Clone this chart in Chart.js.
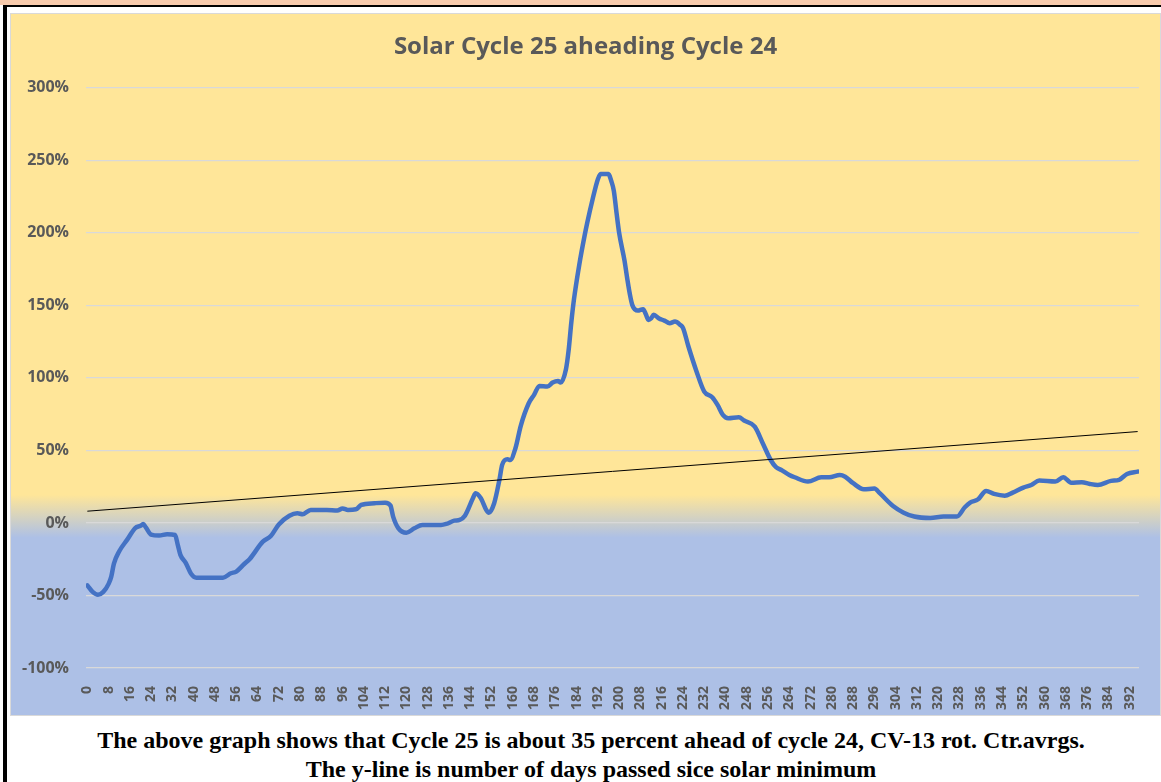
<!DOCTYPE html>
<html>
<head>
<meta charset="utf-8">
<script src="https://cdn.jsdelivr.net/npm/chart.js@4.4.1/dist/chart.umd.min.js"></script>
<style>
html,body{margin:0;padding:0;background:#fff;}
body{width:1161px;height:782px;overflow:hidden;position:relative;}
#peach{position:absolute;left:0;top:0;width:1161px;height:5px;background:#F8CBAD;}
#topline{position:absolute;left:3px;top:5px;width:1158px;height:2px;background:#000;}
#leftline{position:absolute;left:3px;top:5px;width:4px;height:777px;background:#000;}
#box{position:absolute;left:10px;top:13px;width:1151px;height:703px;box-sizing:border-box;border:1px solid #D9D9D9;
 background:linear-gradient(to bottom,#FFE699 0%,#FFE699 68.6%,#ADC0E6 74.7%,#ADC0E6 100%);}
#box canvas{position:absolute;left:0;top:0;}
#caption{position:absolute;left:7px;width:1168px;top:726px;text-align:center;font-family:"Liberation Serif","Times New Roman",serif;font-weight:bold;font-size:24px;line-height:29px;color:#000;}
</style>
</head>
<body>
<div id="peach"></div>
<div id="topline"></div>
<div id="leftline"></div>
<div id="box"><canvas id="c" width="1149" height="701"></canvas></div>
<div id="caption">The above graph shows that Cycle 25 is about 35 percent ahead of cycle 24, CV-13 rot. Ctr.avrgs.<br>The y-line is number of days passed sice solar minimum</div>
<script>
const chartTitle = "Solar Cycle 25 aheading Cycle 24";
const days = [
0,2,4,6,8,9,10,12,15,18,
20,21,22,24,27,30,33,34,35,37,
39,41,51,54,56,59,61,66,69,72,
76,79,81,84,90,94,96,98,101,103,
108,112,114,115,117,120,123,126,133,135,
138,140,142,145,146,148,150,151,153,155,
156,158,159,161,163,166,168,170,173,175,
177,178,180,181,182,183,185,187,188,190,
192,193,196,197,198,199,200,202,203,204,
205,207,209,210,211,212,213,215,217,219,
221,223,224,226,229,232,235,237,239,241,
245,247,251,254,257,259,261,264,266,271,
276,279,283,285,288,292,296,298,303,307,
311,317,322,327,330,332,335,338,341,345,
348,352,355,358,364,367,370,374,377,380,
385,388,391,395];
const aheadPct = [
-43,-47.5,-49.5,-47.5,-42,-37,-28,-19.5,-11.5,-3.5,
-2,-0.8,-3,-8,-8.7,-7.8,-8.3,-15,-22,-27.5,
-35,-37.7,-37.7,-34.7,-33.5,-28.3,-25,-12.9,-9,-1,
5,6.7,6,9,9,8.5,10,9,9.4,12.4,
13.6,14,12,4.4,-3.7,-6.7,-3.7,-1.4,-1.4,-0.7,
1.6,2.1,5,17,20.5,17,9,7,13.6,30,
40,43.9,43.4,51.5,67,82.5,88.3,94.5,94,96.8,
97.9,96.8,106,119,138,154,178,198,207,223,
237,240.5,240.5,236,229,214,200,181,169,158,
150,146.4,147.4,144,140,141,143.5,141,139.5,137.7,
138.8,136.5,134.5,122,105,90.6,86.7,81.4,74.5,72.2,
72.9,70.6,66.4,55,43.4,38.5,36.5,33.1,31.5,28.5,
31.5,31.5,33.1,31.9,27.4,23.2,23.7,20.5,11.7,7.1,
4.4,3.4,4.4,4.4,10.8,14,16.3,22.1,20,18.8,
20.9,24.4,26.2,29.2,28.5,31.5,27.8,28.1,26.9,26.2,
29,29.7,33.8,35.4];
const trendDays = [0, 395];
const trendPct = [8.1, 63.0];
const xTickDays = [0,8,16,24,32,40,48,56,64,72,80,88,96,104,112,120,128,136,144,152,160,168,176,184,192,
  200,208,216,224,232,240,248,256,264,272,280,288,296,304,312,320,328,336,344,352,360,368,376,384,392];
const yTickValues = [-100,-50,0,50,100,150,200,250,300];
const xMin = -0.5, xMax = 395.5;

const series = days.map((d, i) => ({x: d, y: aheadPct[i]}));
const trend = trendDays.map((d, i) => ({x: d, y: trendPct[i]}));
const yMin = yTickValues[0], yMax = yTickValues[yTickValues.length - 1];

new Chart(document.getElementById('c'), {
  type: 'line',
  data: {
    datasets: [
      {label: 'Cycle 25 vs 24', data: series, borderColor: '#4472C4', borderWidth: 4.5,
       pointRadius: 0, cubicInterpolationMode: 'monotone', borderCapStyle: 'round', borderJoinStyle: 'round', order: 1},
      {label: 'Trend', data: trend, borderColor: '#000000', borderWidth: 1, pointRadius: 0, order: 0}
    ]
  },
  options: {
    responsive: false,
    animation: false,
    devicePixelRatio: 1,
    layout: {padding: 0},
    plugins: {
      legend: {display: false},
      tooltip: {enabled: false},
      title: {display: true, text: chartTitle, color: '#595959',
        font: {family: 'Open Sans', size: 24, weight: 'bold'}, padding: {top: 19, bottom: 26}}
    },
    scales: {
      x: {type: 'linear', min: xMin, max: xMax,
        grid: {display: false}, border: {display: false},
        afterBuildTicks: s => { s.ticks = xTickDays.map(v => ({value: v})); },
        ticks: {autoSkip: false, minRotation: 90, maxRotation: 90,
          padding: 10, color: '#595959', font: {family: 'Open Sans', size: 14, weight: 'bold'},
          callback: v => String(v)},
        afterFit: s => { s.height = 47; }},
      y: {type: 'linear', min: yMin, max: yMax,
        grid: {color: '#D9D9D9', lineWidth: 1.3, drawTicks: false}, border: {display: false},
        afterBuildTicks: s => { s.ticks = yTickValues.map(v => ({value: v})); },
        ticks: {padding: 17, color: '#595959', font: {family: 'Open Sans', size: 16, weight: 'bold'},
          callback: v => v + '%'},
        afterFit: s => { s.width = 75; }},
      yR: {type: 'linear', position: 'right', min: yMin, max: yMax, display: true,
        grid: {display: false}, border: {display: false}, ticks: {display: false},
        afterFit: s => { s.width = 21; }}
    }
  }
});
</script>
</body>
</html>
